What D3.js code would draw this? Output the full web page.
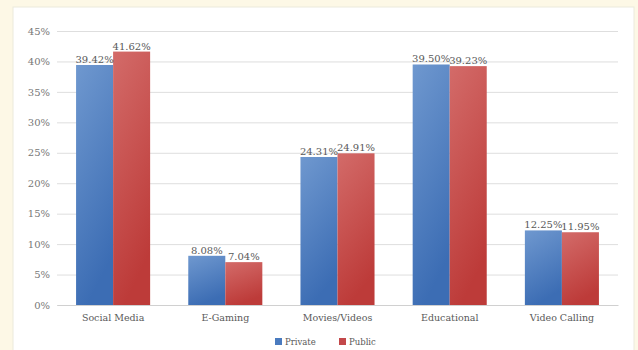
<!DOCTYPE html>
<html><head><meta charset="utf-8">
<script src="https://cdn.jsdelivr.net/npm/d3@7"></script>
<style>
html,body{margin:0;padding:0;background:#fdf8e6;}
svg{display:block;}
</style></head>
<body>
<svg id="chart" width="638" height="350"></svg>
<script>
const categories = ["Social Media", "E-Gaming", "Movies/Videos", "Educational", "Video Calling"];
const seriesNames = ["Private", "Public"];
const privateValues = [39.42, 8.08, 24.31, 39.50, 12.25];
const publicValues = [41.62, 7.04, 24.91, 39.23, 11.95];
const yTicks = [0, 5, 10, 15, 20, 25, 30, 35, 40, 45];

const svg = d3.select("#chart");
const margin = {left: 57, top: 31};
const plotRight = 618, plotBottom = 305;

const defs = svg.append("defs");
const gradB = defs.append("linearGradient").attr("id","gB").attr("x1","0").attr("y1","0").attr("x2","0.3").attr("y2","1");
gradB.append("stop").attr("offset","0%").attr("stop-color","#6f98cf");
gradB.append("stop").attr("offset","100%").attr("stop-color","#3c6db4");
const gradR = defs.append("linearGradient").attr("id","gR").attr("x1","0").attr("y1","0").attr("x2","0.3").attr("y2","1");
gradR.append("stop").attr("offset","0%").attr("stop-color","#d36b69");
gradR.append("stop").attr("offset","100%").attr("stop-color","#bd3b39");

// white panel
svg.append("rect").attr("x",13).attr("y",7).attr("width",621).attr("height",350)
  .attr("fill","#ffffff").attr("stroke","#ece9dc").attr("stroke-width",1);

const x0 = d3.scaleBand().domain(categories).range([margin.left, plotRight]).paddingInner(0).paddingOuter(0);
const x1 = d3.scaleBand().domain(seriesNames).range([0, x0.bandwidth()]).paddingInner(0).paddingOuter(0.515);
const y = d3.scaleLinear().domain([0,45]).range([plotBottom, margin.top]);

// gridlines
const yAxis = d3.axisLeft(y).tickValues(yTicks).tickFormat(d => d + "%").tickSize(-(plotRight - margin.left)).tickPadding(7);
const gy = svg.append("g").attr("transform",`translate(${margin.left},0)`).call(yAxis);
gy.select(".domain").remove();
gy.selectAll(".tick line").attr("stroke","#dedede").attr("stroke-width",1);
gy.selectAll(".tick text").attr("fill","#777777").attr("font-family","DejaVu Serif").attr("font-size","10px");

const colors = {Private:"url(#gB)", Public:"url(#gR)"};
const data = categories.map((c,i)=>({cat:c, vals:[{k:"Private",v:privateValues[i]},{k:"Public",v:publicValues[i]}]}));

const groups = svg.append("g").selectAll("g").data(data).join("g")
  .attr("transform", d=>`translate(${x0(d.cat)},0)`);
groups.selectAll("rect").data(d=>d.vals).join("rect")
  .attr("x", d=>x1(d.k)).attr("width", x1.bandwidth())
  .attr("y", d=>y(d.v)).attr("height", d=>plotBottom - y(d.v))
  .attr("fill", d=>colors[d.k]);
groups.selectAll("text").data(d=>d.vals).join("text")
  .attr("x", d=>x1(d.k)+x1.bandwidth()/2).attr("y", d=>y(d.v)-2)
  .attr("text-anchor","middle").attr("font-family","DejaVu Serif").attr("font-size","10px")
  .attr("fill","#595959").text(d=>d.v.toFixed(2)+"%");

// x axis
const xAxis = d3.axisBottom(x0).tickSize(0).tickPadding(9);
const gx = svg.append("g").attr("transform",`translate(0,${plotBottom})`).call(xAxis);
gx.select(".domain").attr("stroke","#d0d0d0");
gx.selectAll(".tick text").attr("fill","#595959").attr("font-family","DejaVu Serif").attr("font-size","9.5px");

// legend
const legendX = [275, 339];
const lg = svg.append("g").selectAll("g").data(seriesNames).join("g")
  .attr("transform",(d,i)=>`translate(${legendX[i]},338)`);
lg.append("rect").attr("width",7).attr("height",7).attr("fill",d=>d==="Private"?"#4a7bbf":"#c3484a");
lg.append("text").attr("x",10).attr("y",7).attr("font-family","DejaVu Serif").attr("font-size","8.5px")
  .attr("fill","#595959").text(d=>d);
</script>
</body></html>
